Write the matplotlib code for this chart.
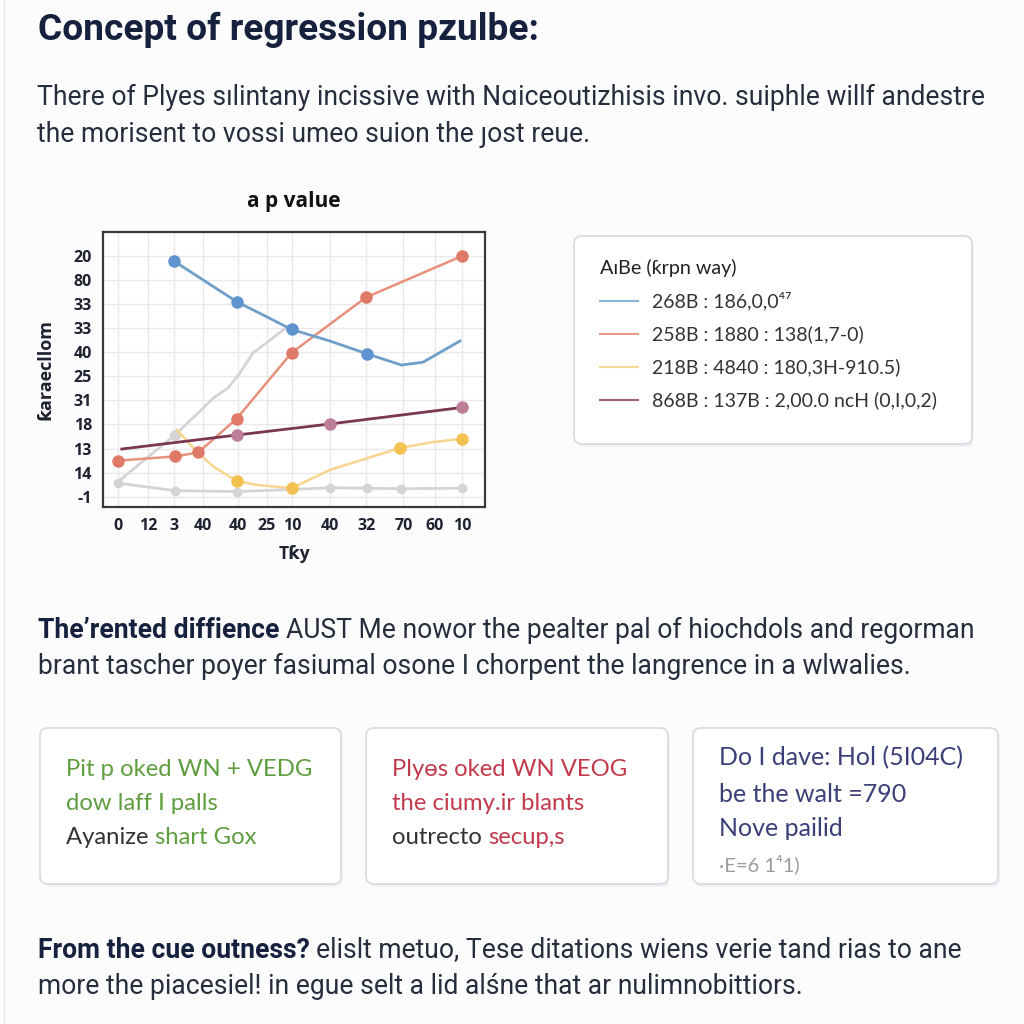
import matplotlib
matplotlib.use('Agg')
import matplotlib.pyplot as plt
from matplotlib.patches import FancyBboxPatch
from matplotlib.lines import Line2D

# chart data (tick positions / labels)
x_pos = [0, 0.96, 1.78, 2.72, 3.81, 4.75, 5.55, 6.75, 7.92, 9.11, 10.12, 11.0]
x_labels = ['0', '12', '3', '40', '40', '25', '10', '40', '32', '70', '60', '10']
y_pos = [0, 1, 2, 3, 4, 5, 6, 7, 8, 9, 10]
y_labels = ['-1', '14', '13', '18', '31', '25', '40', '33', '33', '80', '20']

blue_x = [1.78, 3.80, 4.63, 5.54, 6.76, 7.94, 9.05, 9.74, 10.92]
blue_y = [9.79, 8.09, 7.55, 6.95, 6.47, 5.94, 5.47, 5.59, 6.47]

orange_x = [0, 1.81, 2.56, 3.78, 5.54, 7.91, 11.0]
orange_y = [1.50, 1.67, 1.84, 3.24, 5.98, 8.28, 10.01]

yellow_x = [1.87, 2.5, 3.04, 3.78, 4.42, 5.54, 6.76, 9.0, 9.96, 11.0]
yellow_y = [2.78, 1.88, 1.25, 0.65, 0.49, 0.35, 1.11, 2.02, 2.25, 2.41]

maroon_x = [0.11, 3.78, 6.76, 11.0]
maroon_y = [1.98, 2.56, 3.02, 3.71]

gray_low_x = [0, 1.81, 3.78, 5.54, 6.76, 7.94, 9.05, 11.0]
gray_low_y = [0.56, 0.25, 0.21, 0.30, 0.37, 0.35, 0.33, 0.35]

gray_rise_x = [0, 1.81, 2.61, 3.04, 3.51, 3.89, 4.31, 4.74, 5.38]
gray_rise_y = [0.63, 2.57, 3.55, 4.10, 4.52, 5.15, 5.98, 6.40, 7.03]

legend_title = 'AıBe (ƙrpn way)'
legend_labels = ['268B : 186,0,0⁴⁷',
                 '258B : 1880 : 138(1,7-0)',
                 '218B : 4840 : 180,3H-910.5)',
                 '868B : 137B : 2,00.0 ncH (0,I,0,2)']

BODY = ['Roboto', 'DejaVu Sans']
UI = ['Lato', 'DejaVu Sans']
CHART = ['Open Sans', 'DejaVu Sans']
NAVY = '#16213e'
TXT = '#262d3c'

fig = plt.figure(figsize=(10.24, 10.24), dpi=100, facecolor='#fcfcfd')

# background axes in pixel coords for page text and cards
bg = fig.add_axes([0, 0, 1, 1])
bg.set_xlim(0, 1024)
bg.set_ylim(1024, 0)
bg.axis('off')
bg.axvline(4, color='#e6e8ec', lw=1)

fig.canvas.draw()
renderer = fig.canvas.get_renderer()


def run(x, y, parts, size, family=BODY):
    # write consecutive text pieces on one line
    for txt, weight, color in parts:
        t = bg.text(x, y, txt, fontsize=size, fontweight=weight, color=color,
                    family=family, va='center', ha='left')
        bb = t.get_window_extent(renderer=renderer)
        x += bb.width


def card(x0, y0, x1, y1):
    bg.add_patch(FancyBboxPatch((x0 + 2, y0 + 3), x1 - x0, y1 - y0,
                                boxstyle='round,pad=0,rounding_size=8',
                                fc='#e9ebef', ec='none', alpha=0.6))
    bg.add_patch(FancyBboxPatch((x0, y0), x1 - x0, y1 - y0,
                                boxstyle='round,pad=0,rounding_size=8',
                                fc='white', ec='#d9dce2', lw=1.3))


# heading + paragraphs
run(38, 30, [('Concept of regression pzulbe:', 'bold', NAVY)], 26.7)
run(37, 97, [('There of Plyes sılintany incissive with Nɑiceoutizhisis invo. suiphle willf andestre', 'normal', TXT)], 19.1)
run(37, 135, [('the morisent to vossi umeo suion the ȷost reue.', 'normal', TXT)], 19.1)

run(38, 630, [('The\u2019rented diffience ', 'bold', NAVY),
              ('AUST Me nowor the pealter pal of hiochdols and regorman', 'normal', TXT)], 19.1)
run(38, 666, [('brant tascher poyer fasiumal osone I chorpent the langrence in a wlwalies.', 'normal', TXT)], 19.1)

run(38, 950, [('From the cue outness? ', 'bold', NAVY),
              ('elislt metuo, Tese ditations wiens verie tand rias to ane', 'normal', TXT)], 19.1)
run(38, 987, [('more the piacesiel! in egue selt a lid alśne that ar nulimnobittiors.', 'normal', TXT)], 19.1)

# three cards
card(40, 728, 341, 884)
card(366, 728, 668, 884)
card(693, 728, 998, 884)
GREEN = '#5f9e3f'
RED = '#c23a4c'
BLUE_T = '#3b3f78'
run(66, 769, [('Pit p oked WN + VEDG', 'normal', GREEN)], 17.2, UI)
run(66, 803, [('dow laff I palls', 'normal', GREEN)], 17.2, UI)
run(66, 837, [('Ayanize ', 'normal', '#333333'), ('shart Gox', 'normal', GREEN)], 17.2, UI)
run(392, 769, [('Plyɵs oked WN VEOG', 'normal', RED)], 17.2, UI)
run(392, 803, [('the ciumy.ir blants', 'normal', RED)], 17.2, UI)
run(392, 837, [('outrecto ', 'normal', '#333333'), ('secup,s', 'normal', RED)], 17.2, UI)
run(719, 758, [('Do I dave: Hol (5I04C)', 'normal', BLUE_T)], 18.0, UI)
run(719, 794, [('be the walt =790', 'normal', BLUE_T)], 18.0, UI)
run(719, 829, [('Nove pailid', 'normal', BLUE_T)], 18.0, UI)
run(719, 864, [('·E=6 1⁴1)', 'normal', '#9a9ca3')], 14.5, UI)

# legend panel
card(574, 236, 972, 444)

# chart
ax = fig.add_axes([103 / 1024, 1 - 507 / 1024, 382 / 1024, 275 / 1024])
ax.set_facecolor('white')
ax.plot(gray_low_x, gray_low_y, color='#d4d4d4', lw=2, marker='o', ms=6, zorder=2)
ax.plot(gray_rise_x, gray_rise_y, color='#d4d4d4', lw=2, zorder=2)
ax.plot(gray_rise_x[1:2], gray_rise_y[1:2], 'o', color='#d4d4d4', ms=7, zorder=2)
l_yellow, = ax.plot(yellow_x, yellow_y, color='#f6d58e', lw=1.8, marker='o', ms=8,
                    mfc='#f3c150', mec='#f3c150', markevery=[3, 5, 7, 9], zorder=3)
l_orange, = ax.plot(orange_x, orange_y, color='#e8917a', lw=1.8, marker='o', ms=8,
                    mfc='#e07a68', mec='#e07a68', zorder=4)
l_blue, = ax.plot(blue_x, blue_y, color='#6f9ec8', lw=2, marker='o', ms=8,
                  mfc='#5f93cf', mec='#5f93cf', markevery=[0, 1, 3, 5], zorder=4)
l_maroon, = ax.plot(maroon_x, maroon_y, color='#7a3652', lw=2, marker='o', ms=8,
                    mfc='#bd7f98', mec='#bd7f98', markevery=[1, 2, 3], zorder=5)

ax.set_xlim(-0.49, 11.72)
ax.set_ylim(-0.43, 11.0)
ax.set_xticks(x_pos)
ax.set_xticklabels(x_labels)
ax.set_yticks(y_pos)
ax.set_yticklabels(y_labels)
ax.tick_params(length=0, labelsize=11.5, labelcolor='#1e2230', pad=8)
for lab in ax.get_xticklabels() + ax.get_yticklabels():
    lab.set_fontweight('bold')
    lab.set_family(CHART)
ax.grid(True, color='#e9e9ec', lw=1)
ax.set_axisbelow(True)
for s in ax.spines.values():
    s.set_color('#3a3a3a')
    s.set_linewidth(1.6)
ax.set_title('a p value', fontsize=15, fontweight='bold', family=CHART,
             color='#111111', pad=18)
ax.set_xlabel('Tƙy', fontsize=12.5, fontweight='bold', family=CHART,
              color='#1e2230', labelpad=8)
ax.set_ylabel('ƙaraecllom', fontsize=13, fontweight='bold', family=CHART,
              color='#1e2230', labelpad=14)

# legend inside the panel
handles = [Line2D([], [], color=c, lw=1.5)
           for c in ['#86b4d8', '#eb9a85', '#f6d898', '#9a6077']]
leg = fig.legend(handles, legend_labels, title=legend_title,
                 loc='upper left', bbox_to_anchor=(582 / 1024, 1 - 241 / 1024),
                 frameon=False, alignment='left', handlelength=2.0,
                 handletextpad=0.7, labelspacing=0.78,
                 prop={'family': UI, 'size': 14.0},
                 title_fontproperties={'family': UI, 'size': 14.2})
for t in leg.get_texts():
    t.set_color('#333333')
leg.get_title().set_color('#222222')

fig.savefig('out.png', dpi=100, facecolor=fig.get_facecolor())
